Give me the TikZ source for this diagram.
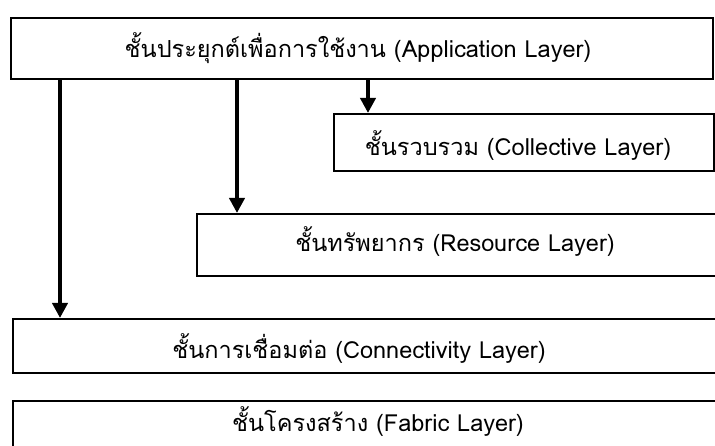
\documentclass[tikz,border=0pt]{standalone}
\usepackage{fontspec}
\newfontfamily\thaifont[Script=Thai]{Loma}
\usetikzlibrary{arrows.meta}
\tikzset{
  layerbox/.style={draw=black, line width=2pt, rectangle, inner sep=0pt, anchor=north west},
  layertext/.style={font=\thaifont\fontsize{23.5}{26}\selectfont, inner sep=0pt},
  downarrow/.style={line width=4.5pt, -{Triangle[width=15pt,length=15pt]}}
}
\begin{document}
\begin{tikzpicture}[x=1pt,y=-1pt]
\useasboundingbox (0,0) rectangle (715,446);
\clip (0,0) rectangle (715,446);
\fill[white] (0,0) rectangle (715,446);
% boxes
\node[layerbox, minimum width=702pt, minimum height=61pt] (app) at (10,17) {};
\node[layerbox, minimum width=380pt, minimum height=57pt] (coll) at (333,113) {};
\node[layerbox, minimum width=530pt, minimum height=62pt] (res) at (196,213) {};
\node[layerbox, minimum width=720pt, minimum height=54pt] (conn) at (12,318) {};
\node[layerbox, minimum width=720pt, minimum height=60pt] (fab) at (12,400) {};
% texts
\node[layertext] (appt) at (358,48) {ชั้นประยุกต์เพื่อการใช้งาน (Application Layer)};
\node[layertext] (collt) at (518,146) {ชั้นรวบรวม (Collective Layer)};
\node[layertext] (rest) at (455,242) {ชั้นทรัพยากร (Resource Layer)};
\node[layertext] (connt) at (359,349) {ชั้นการเชื่อมต่อ (Connectivity Layer)};
\node[layertext] (fabt) at (378,422) {ชั้นโครงสร้าง (Fabric Layer)};
% arrows
\coordinate (a1) at (60,0);
\coordinate (a2) at (237,0);
\coordinate (a3) at (368,0);
\draw[downarrow] (app.south -| a1) -- (conn.north -| a1);
\draw[downarrow] (app.south -| a2) -- (res.north -| a2);
\draw[downarrow] (app.south -| a3) -- (coll.north -| a3);
\end{tikzpicture}
\end{document}
